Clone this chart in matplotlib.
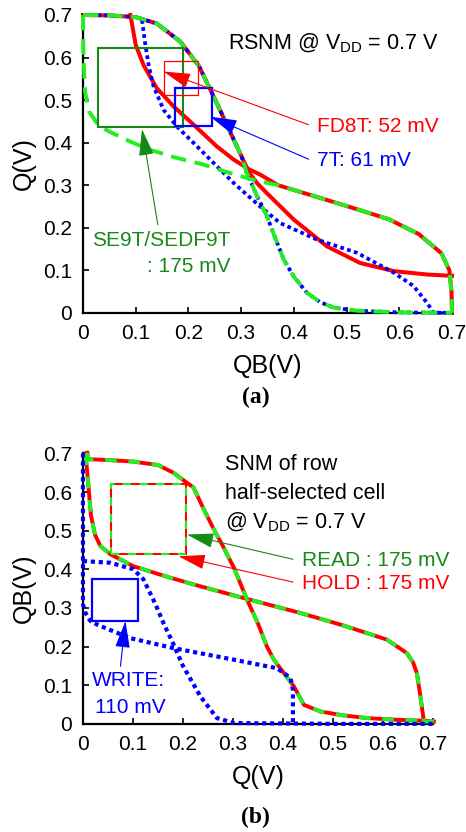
import matplotlib
matplotlib.use('Agg')
import matplotlib.pyplot as plt

plt.rcParams['font.family'] = ['Liberation Sans', 'DejaVu Sans']
plt.rcParams['mathtext.fontset'] = 'custom'
plt.rcParams['mathtext.rm'] = 'Liberation Sans'

RED = '#ff0000'
BLUE = '#0000ff'
LIME = '#22ee22'
DKGREEN = '#168a16'

# ---- (a) RSNM butterfly curves ----
# SE9T / SEDF9T (outer curves)
g1_x = [0, 0.05, 0.1, 0.14, 0.185, 0.22, 0.248, 0.27, 0.286, 0.3, 0.311, 0.33, 0.349, 0.365, 0.381, 0.4, 0.425, 0.45, 0.476, 0.52, 0.6, 0.7]
g1_y = [0.7, 0.699, 0.695, 0.68, 0.637, 0.58, 0.508, 0.45, 0.407, 0.37, 0.328, 0.275, 0.227, 0.175, 0.125, 0.085, 0.047, 0.025, 0.012, 0.005, 0.001, 0]
g2_x = [0, 0.001, 0.004, 0.012, 0.03, 0.047, 0.085, 0.125, 0.175, 0.227, 0.275, 0.328, 0.37, 0.407, 0.45, 0.508, 0.58, 0.637, 0.68, 0.695, 0.699, 0.7]
g2_y = [0.7, 0.6, 0.52, 0.472, 0.44, 0.428, 0.405, 0.384, 0.365, 0.349, 0.33, 0.311, 0.3, 0.286, 0.27, 0.248, 0.22, 0.185, 0.14, 0.1, 0.05, 0]
# FD8T
r1_x = [0.09, 0.1, 0.115, 0.14, 0.172, 0.21, 0.254, 0.286, 0.317, 0.336, 0.37, 0.407, 0.45, 0.508, 0.58, 0.637, 0.68, 0.695, 0.699, 0.7]
r1_y = [0.7, 0.63, 0.582, 0.528, 0.485, 0.442, 0.391, 0.36, 0.336, 0.325, 0.3, 0.286, 0.27, 0.248, 0.22, 0.185, 0.14, 0.1, 0.05, 0]
r2_x = [0, 0.05, 0.1, 0.14, 0.185, 0.22, 0.248, 0.27, 0.286, 0.3, 0.315, 0.33, 0.349, 0.4, 0.463, 0.526, 0.59, 0.653, 0.7]
r2_y = [0.7, 0.699, 0.695, 0.68, 0.637, 0.58, 0.508, 0.45, 0.407, 0.37, 0.33, 0.305, 0.281, 0.219, 0.156, 0.117, 0.098, 0.09, 0.087]
# 7T
b2_x = [0.112, 0.118, 0.125, 0.134, 0.153, 0.178, 0.21, 0.248, 0.286, 0.336, 0.374, 0.444, 0.52, 0.59, 0.627, 0.653, 0.665, 0.7]
b2_y = [0.688, 0.633, 0.579, 0.532, 0.477, 0.438, 0.399, 0.352, 0.305, 0.25, 0.211, 0.172, 0.141, 0.094, 0.063, 0.023, 0, 0]

# ---- (b) row half-selected cell ----
h1_x = [0.009, 0.011, 0.05, 0.1, 0.15, 0.181, 0.208, 0.221, 0.24, 0.262, 0.282, 0.302, 0.328, 0.35, 0.368, 0.382, 0.402, 0.422, 0.442, 0.475, 0.52, 0.568, 0.62, 0.68, 0.702]
h1_y = [0.702, 0.685, 0.683, 0.679, 0.67, 0.65, 0.624, 0.612, 0.56, 0.503, 0.455, 0.404, 0.322, 0.26, 0.2, 0.166, 0.131, 0.097, 0.049, 0.032, 0.022, 0.015, 0.011, 0.008, 0.006]
h2_x = [0.005, 0.008, 0.012, 0.016, 0.024, 0.035, 0.055, 0.101, 0.17, 0.235, 0.332, 0.435, 0.52, 0.608, 0.648, 0.66, 0.668, 0.675, 0.682, 0.7]
h2_y = [0.7, 0.66, 0.6, 0.54, 0.49, 0.46, 0.439, 0.408, 0.38, 0.356, 0.322, 0.287, 0.255, 0.218, 0.183, 0.16, 0.131, 0.071, 0.006, 0.005]
w1_x = [0, 0, 0, 0.005, 0.015, 0.03, 0.094, 0.181, 0.302, 0.388, 0.415, 0.42, 0.42]
w1_y = [0.7, 0.5, 0.31, 0.287, 0.266, 0.256, 0.222, 0.196, 0.166, 0.144, 0.119, 0.088, 0]
w2_x = [0, 0.005, 0.055, 0.101, 0.121, 0.145, 0.163, 0.178, 0.2, 0.235, 0.268, 0.302, 0.5, 0.702]
w2_y = [0.42, 0.421, 0.417, 0.4, 0.374, 0.31, 0.255, 0.215, 0.15, 0.071, 0.015, 0.002, 0, 0]

ticks = [0, 0.1, 0.2, 0.3, 0.4, 0.5, 0.6, 0.7]
tick_labels = ['0', '0.1', '0.2', '0.3', '0.4', '0.5', '0.6', '0.7']

fig = plt.figure(figsize=(4.66, 8.32), dpi=100)
ax1 = fig.add_axes([0.178, 0.624, 0.792, 0.358])
ax2 = fig.add_axes([0.178, 0.130, 0.751, 0.325])

FS = 15
dot = (0, (1, 0.9))
for ax in (ax1, ax2):
    ax.set_xlim(0, 0.7)
    ax.set_ylim(0, 0.7)
    ax.set_xticks(ticks)
    ax.set_yticks(ticks)
    ax.set_xticklabels(tick_labels)
    ax.set_yticklabels(tick_labels)
    ax.tick_params(direction='in', length=4, width=1.2, labelsize=15, pad=8)
    for s in ('top', 'right'):
        ax.spines[s].set_visible(False)
    for s in ('left', 'bottom'):
        ax.spines[s].set_linewidth(1.6)

# (a)
for x, y in ((r1_x, r1_y), (r2_x, r2_y)):
    ax1.plot(x, y, color=RED, lw=2.9, clip_on=False, zorder=2)
for x, y in ((g1_x, g1_y), (b2_x, b2_y)):
    ax1.plot(x, y, color=BLUE, lw=2.7, ls=dot, dash_capstyle='butt', clip_on=False, zorder=3)
for x, y in ((g1_x, g1_y), (g2_x, g2_y)):
    ax1.plot(x, y, color=LIME, lw=2.8, ls=(0, (4, 2.2)), dash_capstyle='butt', clip_on=False, zorder=4)

ax1.add_patch(plt.Rectangle((0.029, 0.437), 0.161, 0.186, fill=False, ec=DKGREEN, lw=1.5, zorder=5))
ax1.add_patch(plt.Rectangle((0.153, 0.511), 0.065, 0.080, fill=False, ec=RED, lw=0.9, zorder=5))
ax1.add_patch(plt.Rectangle((0.175, 0.439), 0.069, 0.089, fill=False, ec=BLUE, lw=1.6, zorder=5))

arr = '-|>,head_length=0.8,head_width=0.22'
ap = dict(lw=0.8, shrinkA=0, shrinkB=0, mutation_scale=21)
ax1.annotate('', xy=(0.153, 0.567), xytext=(0.428, 0.442),
             arrowprops=dict(arrowstyle=arr, color=RED, **ap), zorder=6)
ax1.annotate('', xy=(0.2416, 0.461), xytext=(0.428, 0.361),
             arrowprops=dict(arrowstyle=arr, color=BLUE, **ap), zorder=6)
ax1.annotate('', xy=(0.112, 0.432), xytext=(0.142, 0.207),
             arrowprops=dict(arrowstyle=arr, color=DKGREEN, **ap), zorder=6)

ax1.text(0.275, 0.618, r'RSNM @ V$_{\rm DD}$ = 0.7 V', fontsize=FS + 0.5, va='baseline')
ax1.text(0.444, 0.424, 'FD8T: 52 mV', fontsize=FS, color=RED, va='baseline')
ax1.text(0.444, 0.344, '7T: 61 mV', fontsize=FS, color=BLUE, va='baseline')
ax1.text(0.017, 0.158, 'SE9T/SEDF9T', fontsize=FS, color=DKGREEN, va='baseline')
ax1.text(0.28, 0.095, ': 175 mV', fontsize=FS, color=DKGREEN, va='baseline', ha='right')
ax1.set_xlabel('QB(V)', fontsize=18, labelpad=8)
ax1.set_ylabel('Q(V)', fontsize=18, labelpad=5)

# (b)
for x, y in ((h1_x, h1_y), (h2_x, h2_y)):
    ax2.plot(x, y, color=RED, lw=2.8, clip_on=False, zorder=2)
    ax2.plot(x, y, color=LIME, lw=2.8, ls=(0, (3, 3)), dash_capstyle='butt', clip_on=False, zorder=3)
for x, y in ((w1_x, w1_y), (w2_x, w2_y)):
    ax2.plot(x, y, color=BLUE, lw=3.0, ls=dot, dash_capstyle='butt', clip_on=False, zorder=4)

ax2.add_patch(plt.Rectangle((0.057, 0.439), 0.149, 0.183, fill=False, ec=RED, lw=1.5, zorder=5))
ax2.add_patch(plt.Rectangle((0.057, 0.439), 0.149, 0.183, fill=False, ec=LIME, lw=1.5, ls=(0, (4, 4)), zorder=6))
ax2.add_patch(plt.Rectangle((0.018, 0.267), 0.093, 0.108, fill=False, ec=BLUE, lw=1.6, zorder=5))

ax2.annotate('', xy=(0.208, 0.49), xytext=(0.42, 0.426),
             arrowprops=dict(arrowstyle=arr, color=DKGREEN, **ap), zorder=7)
ax2.annotate('', xy=(0.191, 0.434), xytext=(0.42, 0.367),
             arrowprops=dict(arrowstyle=arr, color=RED, **ap), zorder=7)
ax2.annotate('', xy=(0.085, 0.266), xytext=(0.075, 0.149),
             arrowprops=dict(arrowstyle=arr, color=BLUE, **ap), zorder=7)

ax2.text(0.285, 0.657, 'SNM of row', fontsize=FS + 0.5, va='baseline')
ax2.text(0.285, 0.581, 'half-selected cell', fontsize=FS + 0.5, va='baseline')
ax2.text(0.285, 0.505, r'@ V$_{\rm DD}$ = 0.7 V', fontsize=FS + 0.5, va='baseline')
ax2.text(0.438, 0.408, 'READ : 175 mV', fontsize=FS, color=DKGREEN, va='baseline')
ax2.text(0.438, 0.349, 'HOLD : 175 mV', fontsize=FS, color=RED, va='baseline')
ax2.text(0.018, 0.097, 'WRITE:', fontsize=FS, color=BLUE, va='baseline')
ax2.text(0.025, 0.029, '110 mV', fontsize=FS, color=BLUE, va='baseline')
ax2.set_xlabel('Q(V)', fontsize=18, labelpad=8)
ax2.set_ylabel('QB(V)', fontsize=18, labelpad=5)

fig.text(0.549, 0.522, '(a)', fontsize=17, fontweight='bold', family='Liberation Serif', ha='center', va='center')
fig.text(0.549, 0.018, '(b)', fontsize=17, fontweight='bold', family='Liberation Serif', ha='center', va='center')

fig.savefig('out.png', dpi=100)
